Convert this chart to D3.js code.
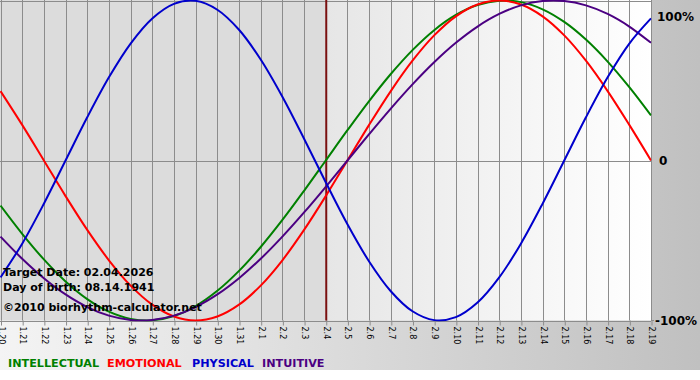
<!DOCTYPE html>
<html>
<head>
<meta charset="utf-8">
<script src="https://cdn.jsdelivr.net/npm/d3@7"></script>
<style>
  html, body { margin: 0; padding: 0; background: #ffffff; }
  svg { display: block; }
</style>
</head>
<body>
<svg id="chart" width="700" height="380"></svg>
<script>
// ---- data ----
const days = ["1.20","1.21","1.22","1.23","1.24","1.25","1.26","1.27","1.28","1.29","1.30","1.31",
  "2.1","2.2","2.3","2.4","2.5","2.6","2.7","2.8","2.9","2.10","2.11","2.12","2.13","2.14","2.15","2.16","2.17","2.18","2.19"];
const intellectual = [-0.2817,-0.4582,-0.6182,-0.7557,-0.8660,-0.9450,-0.9898,-0.9989,-0.9718,-0.9096,-0.8146,-0.6901,
  -0.5406,-0.3717,-0.1893,0,0.1893,0.3717,0.5406,0.6901,0.8146,0.9096,0.9718,0.9989,0.9898,0.9450,0.8660,0.7557,0.6182,0.4582,0.2817];
const emotional = [0.4339,0.2225,0,-0.2225,-0.4339,-0.6235,-0.7818,-0.9010,-0.9749,-1,-0.9749,-0.9010,
  -0.7818,-0.6235,-0.4339,-0.2225,0,0.2225,0.4339,0.6235,0.7818,0.9010,0.9749,1,0.9749,0.9010,0.7818,0.6235,0.4339,0.2225,0];
const physical = [-0.7308,-0.5196,-0.2698,0,0.2698,0.5196,0.7308,0.8879,0.9791,0.9977,0.9423,0.8170,
  0.6310,0.3984,0.1362,-0.1362,-0.3984,-0.6310,-0.8170,-0.9423,-0.9977,-0.9791,-0.8879,-0.7308,-0.5196,-0.2698,0,0.2698,0.5196,0.7308,0.8879];
const intuitive = [-0.4759,-0.6142,-0.7357,-0.8372,-0.9158,-0.9694,-0.9966,-0.9966,-0.9694,-0.9158,-0.8372,-0.7357,
  -0.6142,-0.4759,-0.3247,-0.1646,0,0.1646,0.3247,0.4759,0.6142,0.7357,0.8372,0.9158,0.9694,0.9966,0.9966,0.9694,0.9158,0.8372,0.7357];
const seriesNames = ["INTELLECTUAL","EMOTIONAL","PHYSICAL","INTUITIVE"];
const seriesColors = ["#008000","#ff0000","#0000cc","#4b0082"];
const targetDay = "2.4";
const yTicks = [1, 0, -1];
const yTickLabels = ["100%", "0", "-100%"];
const infoLines = ["Target Date: 02.04.2026", "Day of birth: 08.14.1941", "\u00A92010 biorhythm-calculator.net"];

// ---- chart ----
const svg = d3.select("#chart");
const W = 700;
const plot = {left: 0.5, right: 651, top: 0.5, bottom: 320.5};

const x = d3.scalePoint().domain(days).range([plot.left, plot.right]);
const y = d3.scaleLinear().domain([-1, 1]).range([plot.bottom, plot.top]);

const defs = svg.append("defs");
const gOut = defs.append("linearGradient").attr("id", "outerGrad").attr("x1", "0%").attr("x2", "100%");
gOut.append("stop").attr("offset", "0%").attr("stop-color", "#f4f4f4");
gOut.append("stop").attr("offset", "100%").attr("stop-color", "#c0c0c0");
const gFut = defs.append("linearGradient").attr("id", "futGrad").attr("x1", "0%").attr("x2", "100%");
gFut.append("stop").attr("offset", "0%").attr("stop-color", "#e6e6e6");
gFut.append("stop").attr("offset", "100%").attr("stop-color", "#ffffff");
defs.append("clipPath").attr("id", "plotClip").append("rect")
  .attr("x", plot.left - 0.5).attr("y", 0).attr("width", plot.right - plot.left + 1).attr("height", plot.bottom + 1);

// outer background
svg.append("rect").attr("x", 0).attr("y", 0).attr("width", W).attr("height", 370).attr("fill", "url(#outerGrad)");

// plot background: past (gray) and future (lighter gradient)
const xt = x(targetDay);
svg.append("rect").attr("x", 0).attr("y", 0).attr("width", xt).attr("height", plot.bottom)
  .attr("fill", "#dcdcdc");
svg.append("rect").attr("x", xt).attr("y", 0).attr("width", plot.right - xt).attr("height", plot.bottom)
  .attr("fill", "url(#futGrad)");

// vertical grid
svg.append("g").selectAll("line").data(days).join("line")
  .attr("x1", d => Math.round(x(d)) + 0.5).attr("x2", d => Math.round(x(d)) + 0.5)
  .attr("y1", 0).attr("y2", plot.bottom)
  .attr("stroke", "#8c8c8c").attr("stroke-width", 1);

// horizontal lines (top, zero, bottom)
svg.append("g").selectAll("line").data(yTicks).join("line")
  .attr("x1", 0).attr("x2", plot.right)
  .attr("y1", d => Math.round(y(d)) + 0.5).attr("y2", d => Math.round(y(d)) + 0.5)
  .attr("stroke", "#8c8c8c").attr("stroke-width", 1);

// bottom axis (ticks + rotated labels)
const xAxis = d3.axisBottom(x).tickSize(5).tickPadding(0);
const gx = svg.append("g").attr("transform", `translate(0.5,${plot.bottom})`).call(xAxis);
gx.select(".domain").remove();
gx.selectAll(".tick line").attr("stroke", "#8c8c8c");
gx.selectAll(".tick text")
  .attr("font-family", "DejaVu Sans, Verdana, sans-serif")
  .attr("font-size", 8)
  .attr("fill", "#000")
  .attr("text-anchor", "start")
  .attr("dy", null)
  .attr("y", 0)
  .attr("transform", "translate(-3,6) rotate(90)");

// right axis labels
const ga = svg.append("g").attr("transform", `translate(${plot.right},0)`);
ga.selectAll("text").data(yTicks).join("text")
  .attr("x", (d, i) => i === 1 ? 8 : (i === 0 ? 6 : 4))
  .attr("y", (d, i) => i === 0 ? 21 : y(d) + 4.5)
  .attr("font-family", "DejaVu Sans, Verdana, sans-serif")
  .attr("font-weight", "bold")
  .attr("font-size", 12)
  .attr("fill", "#000")
  .text((d, i) => yTickLabels[i]);
ga.append("line").attr("x1", 0).attr("x2", 3).attr("y1", plot.bottom).attr("y2", plot.bottom).attr("stroke", "#8c8c8c");

// target date line
svg.append("line")
  .attr("x1", xt + 0.5).attr("x2", xt + 0.5).attr("y1", 0).attr("y2", plot.bottom)
  .attr("stroke", "#7a1010").attr("stroke-width", 2);

// curves
const allSeries = [intellectual, emotional, intuitive, physical];
const allColors = [seriesColors[0], seriesColors[1], seriesColors[3], seriesColors[2]];
const line = d3.line()
  .x((d, i) => x(days[i]))
  .y(d => y(d))
  .curve(d3.curveCatmullRom.alpha(0.5));
svg.append("g").attr("clip-path", "url(#plotClip)")
  .selectAll("path").data(allSeries).join("path")
  .attr("d", d => line(d))
  .attr("fill", "none")
  .attr("stroke", (d, i) => allColors[i])
  .attr("stroke-width", 2);

// info text
svg.append("g").selectAll("text").data(infoLines).join("text")
  .attr("x", 3)
  .attr("y", (d, i) => [276, 291, 311][i])
  .attr("font-family", "DejaVu Sans, Verdana, sans-serif")
  .attr("font-weight", "bold")
  .attr("font-size", 11)
  .attr("fill", "#000")
  .text(d => d);

// legend
const legendX = [8, 107, 192, 262];
svg.append("g").selectAll("text").data(seriesNames).join("text")
  .attr("x", (d, i) => legendX[i])
  .attr("y", 366.5)
  .attr("font-family", "DejaVu Sans, Verdana, sans-serif")
  .attr("font-weight", "bold")
  .attr("font-size", 11.2)
  .attr("fill", (d, i) => seriesColors[i])
  .text(d => d);
</script>
</body>
</html>
